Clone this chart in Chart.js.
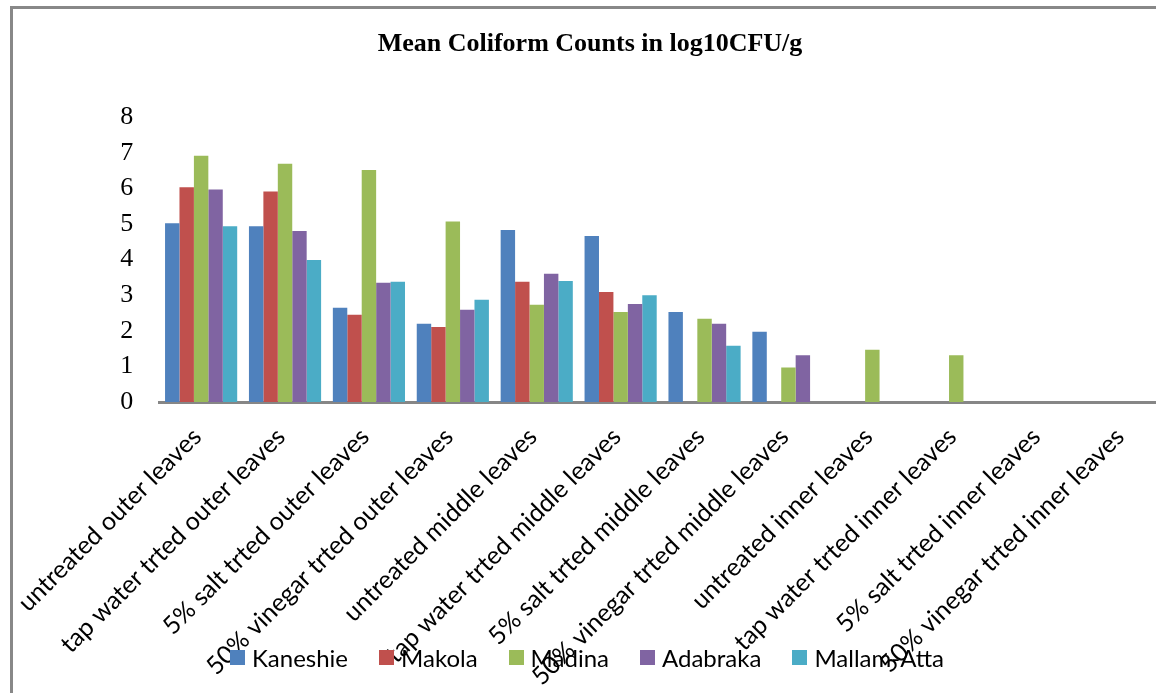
<!DOCTYPE html>
<html>
<head>
<meta charset="utf-8">
<script src="https://cdn.jsdelivr.net/npm/chart.js@4.4.1/dist/chart.umd.min.js"></script>
<style>
    body { margin: 0; background: #fff; overflow: hidden; }
    #wrap { position: relative; width: 1172px; height: 693px; }
    #frame {
        position: absolute; left: 10px; top: 6px; width: 2000px; height: 2000px;
        border-left: 3px solid #888; border-top: 3px solid #888;
    }
    #legend {
        position: absolute; left: 230px; top: 643px;
        display: flex; align-items: center;
        font-family: Lato, sans-serif; font-size: 24px; color: #000;
    }
    #legend .item { display: flex; align-items: center; margin-right: 31px; }
    #legend .box { width: 15px; height: 15px; margin-right: 7px; }
</style>
</head>
<body>
<div id="wrap">
    <div id="frame"></div>
    <canvas id="coliformChart"></canvas>
    <div id="legend"></div>
</div>
<script>
const categories = [
    'untreated outer leaves',
    'tap water trted outer leaves',
    '5% salt trted outer leaves',
    '50% vinegar trted outer leaves',
    'untreated middle leaves',
    'tap water trted middle leaves',
    '5% salt trted middle leaves',
    '50% vinegar trted middle leaves',
    'untreated inner leaves',
    'tap water trted inner leaves',
    '5% salt trted inner leaves',
    '50% vinegar trted inner leaves'
];

const seriesNames = ['Kaneshie', 'Makola', 'Madina', 'Adabraka', 'Mallam-Atta'];
const seriesColors = ['#4F81BD', '#C0504D', '#9BBB59', '#8064A2', '#4BACC6'];

const kaneshie = [5.02, 4.94, 2.65, 2.20, 4.83, 4.66, 2.53, 1.97, 0, 0, 0, 0];
const makola = [6.03, 5.91, 2.45, 2.11, 3.38, 3.09, 0, 0, 0, 0, 0, 0];
const madina = [6.92, 6.69, 6.52, 5.07, 2.73, 2.53, 2.34, 0.97, 1.47, 1.31, 0, 0];
const adabraka = [5.97, 4.80, 3.35, 2.59, 3.60, 2.75, 2.20, 1.31, 0, 0, 0, 0];
const mallamAtta = [4.94, 3.99, 3.38, 2.87, 3.40, 3.00, 1.58, 0, 0, 0, 0, 0];

const yTicks = [0, 1, 2, 3, 4, 5, 6, 7, 8];

const seriesValues = [kaneshie, makola, madina, adabraka, mallamAtta];

const ctx = document.getElementById('coliformChart').getContext('2d');

// the canvas is a little wider than the window: the original is cut off on the right
const coliformChart = new Chart(ctx, {
    type: 'bar',
    data: {
        labels: categories,
        datasets: seriesNames.map((name, i) => ({
            label: name,
            data: seriesValues[i],
            backgroundColor: seriesColors[i],
            borderWidth: 0,
            categoryPercentage: 0.86,
            barPercentage: 1.0
        }))
    },
    options: {
        responsive: true,
        maintainAspectRatio: false,
        animation: false,
        layout: {
            padding: { left: 14, right: 6, top: 8, bottom: 0 }
        },
        scales: {
            x: {
                z: 1,
                grid: { display: false, drawTicks: false },
                border: { display: true, color: '#868686', width: 3 },
                afterFit: (scale) => { scale.height = 291; },
                ticks: {
                    autoSkip: false,
                    minRotation: 45,
                    maxRotation: 45,
                    padding: 20,
                    labelOffset: -4,
                    color: '#000',
                    font: { family: 'Lato', size: 25 }
                }
            },
            y: {
                min: 0,
                max: 8,
                grid: { display: false, drawTicks: false },
                border: { display: false },
                afterFit: (scale) => { scale.width = 145; },
                afterBuildTicks: (scale) => {
                    scale.ticks = yTicks.map(v => ({ value: v }));
                },
                ticks: {
                    padding: 26,
                    color: '#000',
                    font: { family: 'Liberation Serif', size: 26 }
                }
            }
        },
        plugins: {
            legend: { display: false },
            tooltip: { enabled: false },
            title: {
                display: true,
                text: 'Mean Coliform Counts in log10CFU/g',
                color: '#000',
                font: { family: 'Liberation Serif', size: 26, weight: 'bold' },
                padding: { top: 21, bottom: 57 }
            }
        }
    }
});

// legend sits over the rotated labels, like the original
const legendEl = document.getElementById('legend');
seriesNames.forEach((name, i) => {
    const item = document.createElement('div');
    item.className = 'item';
    const box = document.createElement('span');
    box.className = 'box';
    box.style.background = seriesColors[i];
    const label = document.createElement('span');
    label.textContent = name;
    item.appendChild(box);
    item.appendChild(label);
    legendEl.appendChild(item);
});
</script>
</body>
</html>
